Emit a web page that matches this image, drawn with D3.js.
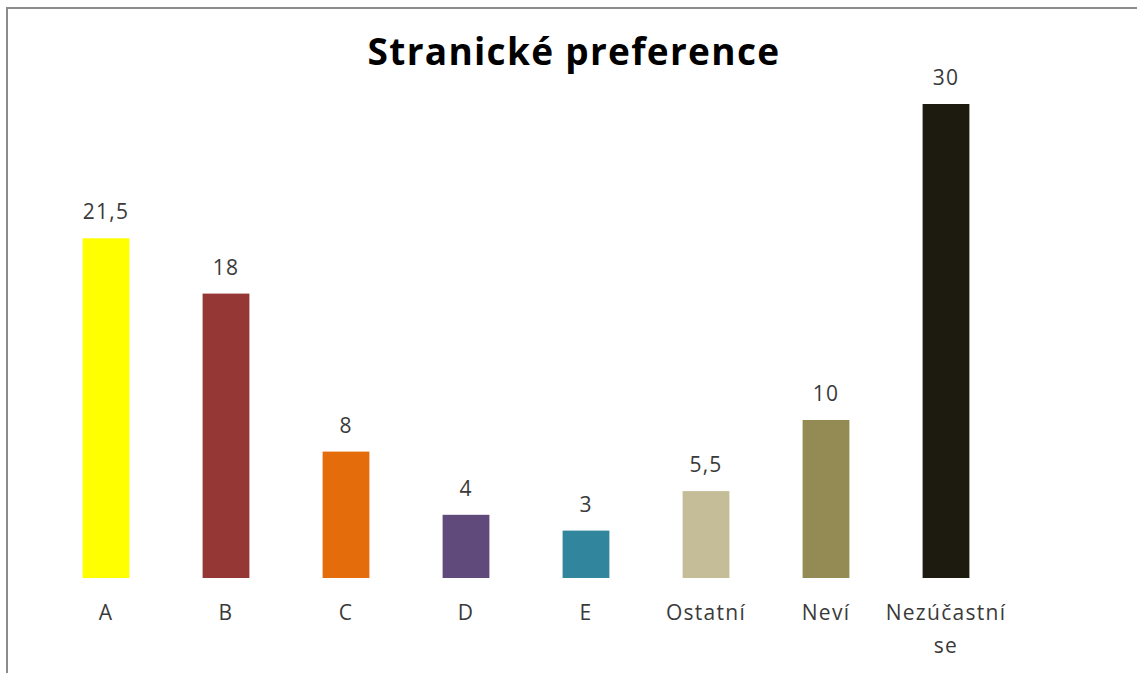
<!DOCTYPE html>
<html>
<head>
<meta charset="utf-8">
<script src="https://cdn.jsdelivr.net/npm/d3@7"></script>
<style>
  body { margin: 0; background: #fff; }
  text { font-family: "Open Sans", "Noto Sans", sans-serif; }
</style>
</head>
<body>
<div id="chart"></div>
<script>
// data
const categories = ["A", "B", "C", "D", "E", "Ostatní", "Neví", "Nezúčastní se"];
const values = [21.5, 18, 8, 4, 3, 5.5, 10, 30];
const valueLabels = ["21,5", "18", "8", "4", "3", "5,5", "10", "30"];
const barColors = ["#FFFF00", "#953735", "#E46C0A", "#604A7B", "#31859C", "#C4BD97", "#948A54", "#1D1B10"];

const W = 1137, H = 673;
const baseY = 578, topY = 104;

const svg = d3.select("#chart")
  .append("svg")
    .attr("width", W)
    .attr("height", H);

// frame
svg.append("rect")
  .attr("x", 7).attr("y", 8)
  .attr("width", W + 10).attr("height", H + 10)
  .attr("fill", "#fff")
  .attr("stroke", "#8c8c8c")
  .attr("stroke-width", 2);

// title
svg.append("text")
  .attr("x", 574)
  .attr("y", 65)
  .attr("text-anchor", "middle")
  .style("font-size", "37px")
  .style("font-weight", "bold")
  .style("letter-spacing", "1.3px")
  .attr("fill", "#000")
  .text("Stranické preference");

const x = d3.scaleBand()
  .domain(categories)
  .range([46, 1006])
  .paddingInner(0.61)
  .paddingOuter(0.305);

const y = d3.scaleLinear()
  .domain([0, 30])
  .range([baseY, topY]);

const data = categories.map((c, i) => ({cat: c, value: values[i], label: valueLabels[i], color: barColors[i]}));

svg.selectAll("rect.bar")
  .data(data)
  .join("rect")
    .attr("class", "bar")
    .attr("x", d => x(d.cat))
    .attr("y", d => y(d.value))
    .attr("width", x.bandwidth())
    .attr("height", d => y(0) - y(d.value))
    .attr("fill", d => d.color);

// value labels
svg.selectAll("text.val")
  .data(data)
  .join("text")
    .attr("class", "val")
    .attr("x", d => x(d.cat) + x.bandwidth() / 2)
    .attr("y", d => y(d.value) - 19)
    .attr("text-anchor", "middle")
    .attr("fill", "#3a3a3a")
    .style("font-size", "21px")
    .style("letter-spacing", "1.2px")
    .text(d => d.label);

// category axis (no line, no ticks)
const xAxis = svg.append("g")
  .attr("transform", `translate(0,${baseY})`)
  .call(d3.axisBottom(x).tickSize(0).tickPadding(0));
xAxis.select(".domain").remove();
xAxis.selectAll(".tick text").remove();
xAxis.selectAll(".tick").each(function(d) {
  const words = d === "Nezúčastní se" ? ["Nezúčastní", "se"] : [d];
  const t = d3.select(this).append("text")
    .attr("text-anchor", "middle")
    .attr("fill", "#3a3a3a")
    .style("font-size", "21px")
    .style("letter-spacing", "1.3px");
  words.forEach((w, i) => {
    t.append("tspan")
      .attr("x", 0)
      .attr("y", 42 + i * 33)
      .text(w);
  });
});
</script>
</body>
</html>
